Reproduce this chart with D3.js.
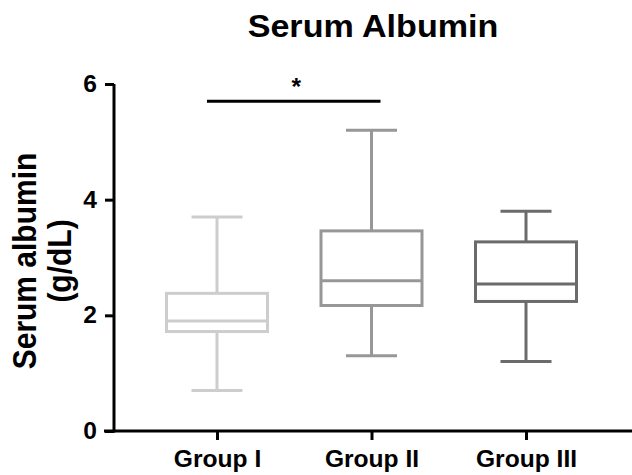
<html>
<head>
<style>
  body { margin: 0; background: #fff; }
  text { font-family: "Liberation Sans", Arial, sans-serif; font-weight: bold; fill: #000; }
</style>
</head>
<body>
<script src="https://d3js.org/d3.v7.min.js"></script>
<div id="chart"></div>
<script>
// data
var groups = ["Group I", "Group II", "Group III"];
var whiskerLow  = [0.7, 1.3, 1.2];
var q1          = [1.72, 2.17, 2.24];
var median      = [1.9, 2.6, 2.54];
var q3          = [2.38, 3.46, 3.27];
var whiskerHigh = [3.7, 5.2, 3.8];
var colors = ["#cdcdcd", "#979797", "#6b6b6b"];
var yTicks = [0, 2, 4, 6];
var sigLevel = 5.7;

var W = 632, H = 475;
var sx = 1.07; // picture text is a bit wider than tall

var svg = d3.select("#chart").append("svg")
  .attr("width", W).attr("height", H);

var x = d3.scalePoint().domain(groups).range([217, 526]);
var y = d3.scaleLinear().domain([0, 6]).range([431, 84]);

var boxW = 101, capW = 51;

// boxes
groups.forEach(function(g, i) {
  var cx = x(g), c = colors[i];
  var gg = svg.append("g").attr("stroke", c).attr("stroke-width", 3).attr("fill", "none");
  gg.append("line").attr("x1", cx).attr("x2", cx).attr("y1", y(whiskerHigh[i])).attr("y2", y(q3[i]));
  gg.append("line").attr("x1", cx).attr("x2", cx).attr("y1", y(q1[i])).attr("y2", y(whiskerLow[i]));
  gg.append("line").attr("x1", cx - capW/2).attr("x2", cx + capW/2).attr("y1", y(whiskerHigh[i])).attr("y2", y(whiskerHigh[i]));
  gg.append("line").attr("x1", cx - capW/2).attr("x2", cx + capW/2).attr("y1", y(whiskerLow[i])).attr("y2", y(whiskerLow[i]));
  gg.append("rect").attr("x", cx - boxW/2).attr("y", y(q3[i]))
    .attr("width", boxW).attr("height", y(q1[i]) - y(q3[i])).attr("fill", "#fff");
  gg.append("line").attr("x1", cx - boxW/2).attr("x2", cx + boxW/2).attr("y1", y(median[i])).attr("y2", y(median[i]));
});

// y axis
var yAxis = svg.append("g").attr("transform", "translate(114,0)")
  .call(d3.axisLeft(y).tickValues(yTicks).tickSize(9).tickPadding(8).tickFormat(d3.format("d")));
yAxis.select(".domain").attr("stroke-width", 3).attr("d", "M0," + y(6) + "V" + (y(0) + 1.5));
yAxis.selectAll(".tick line").attr("stroke-width", 3);
yAxis.selectAll(".tick text").attr("font-size", 23).attr("font-family", null)
  .attr("transform", "scale(" + sx + ",1)").attr("x", -17 / sx);

// x axis
var xAxis = svg.append("g").attr("transform", "translate(0," + y(0) + ")")
  .call(d3.axisBottom(x).tickSize(9).tickPadding(11));
xAxis.select(".domain").attr("stroke-width", 3).attr("d", "M104,0H632");
xAxis.selectAll(".tick line").attr("stroke-width", 3);
xAxis.selectAll(".tick text").attr("font-size", 23).attr("font-family", null)
  .attr("transform", "scale(" + sx + ",1)");

// significance bar
var sigY = y(sigLevel);
svg.append("line").attr("x1", x("Group I") - 10).attr("x2", x("Group II") + 9)
  .attr("y1", sigY).attr("y2", sigY).attr("stroke", "#000").attr("stroke-width", 3);
svg.append("text")
  .attr("transform", "translate(" + ((x("Group I") + x("Group II")) / 2 + 2) + "," + (sigY - 6) + ") scale(" + sx + ",1)")
  .attr("text-anchor", "middle").attr("font-size", 23).text("*");

// title
svg.append("text")
  .attr("transform", "translate(373,37) scale(1.1,1)")
  .attr("text-anchor", "middle").attr("font-size", 31).text("Serum Albumin");

// y label
var yl = svg.append("text")
  .attr("transform", "translate(25,261) scale(1.1,1) rotate(-90)")
  .attr("text-anchor", "middle").attr("font-size", 30);
yl.append("tspan").attr("x", 0).attr("y", 10).text("Serum albumin");
yl.append("tspan").attr("x", 0).attr("y", 42).text("(g/dL)");
</script>
</body>
</html>
